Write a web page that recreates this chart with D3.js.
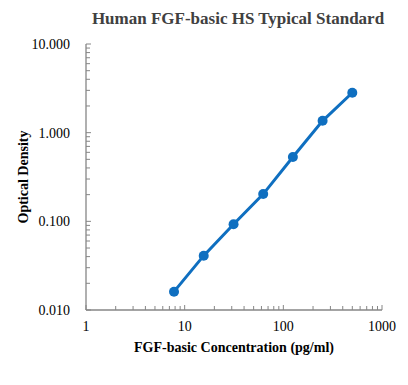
<!DOCTYPE html>
<html>
<head>
<meta charset="utf-8">
<script src="https://cdn.jsdelivr.net/npm/d3@7"></script>
<style>
  body { margin: 0; background: #fff; }
  svg { display: block; }
</style>
</head>
<body>
<script>
// standard curve data
const concentrations = [7.8, 15.6, 31.3, 62.5, 125, 250, 500];
const odValues = [0.0161, 0.041, 0.0925, 0.203, 0.531, 1.36, 2.82];
const xTicks = [1, 10, 100, 1000];
const yTicks = [0.01, 0.1, 1, 10];

const width = 408, height = 385;
const plotLeft = 86, plotRight = 382, plotTop = 44, plotBottom = 310;
const serif = "Liberation Serif, Times New Roman, serif";

const svg = d3.select("body").append("svg")
  .attr("width", width)
  .attr("height", height)
  .style("font-family", serif);

const x = d3.scaleLog().domain([1, 1000]).range([plotLeft, plotRight]);
const y = d3.scaleLog().domain([0.01, 10]).range([plotBottom, plotTop]);

// minor tick positions (2..9 in every decade)
function minorTicks(lo, hi) {
  let out = [];
  for (let d = lo; d < hi; d *= 10) {
    for (let k = 2; k <= 9; k++) out.push(d * k);
  }
  return out;
}

const axisColor = "#868686";

// x axis, ticks point inward (up)
const xAxis = svg.append("g").attr("transform", `translate(0,${plotBottom})`);
xAxis.append("line")
  .attr("x1", plotLeft).attr("x2", plotRight)
  .attr("stroke", axisColor).attr("stroke-width", 1.3);
xAxis.selectAll(".minor").data(minorTicks(1, 1000)).enter().append("line")
  .attr("x1", d => x(d)).attr("x2", d => x(d))
  .attr("y1", 0).attr("y2", -4)
  .attr("stroke", axisColor);
xAxis.selectAll(".major").data(xTicks).enter().append("line")
  .attr("x1", d => x(d)).attr("x2", d => x(d))
  .attr("y1", 0).attr("y2", -5)
  .attr("stroke", axisColor);
xAxis.selectAll("text").data(xTicks).enter().append("text")
  .attr("x", d => x(d)).attr("y", 21)
  .attr("text-anchor", "middle")
  .attr("font-size", 14)
  .attr("fill", "#000")
  .text(d => d);

// y axis, ticks point inward (right)
const yAxis = svg.append("g").attr("transform", `translate(${plotLeft},0)`);
yAxis.append("line")
  .attr("y1", plotTop).attr("y2", plotBottom)
  .attr("stroke", axisColor).attr("stroke-width", 1.3);
yAxis.selectAll(".minor").data(minorTicks(0.01, 10)).enter().append("line")
  .attr("y1", d => y(d)).attr("y2", d => y(d))
  .attr("x1", 0).attr("x2", 4)
  .attr("stroke", axisColor);
yAxis.selectAll(".major").data(yTicks).enter().append("line")
  .attr("y1", d => y(d)).attr("y2", d => y(d))
  .attr("x1", 0).attr("x2", 5)
  .attr("stroke", axisColor);
yAxis.selectAll("text").data(yTicks).enter().append("text")
  .attr("x", -16).attr("y", d => y(d) + 5)
  .attr("text-anchor", "end")
  .attr("font-size", 14)
  .attr("fill", "#000")
  .text(d => d3.format(".3f")(d));

// line and markers
const pts = concentrations.map((c, i) => [c, odValues[i]]);
svg.append("path")
  .datum(pts)
  .attr("fill", "none")
  .attr("stroke", "#0F6FC0")
  .attr("stroke-width", 3)
  .attr("d", d3.line().x(d => x(d[0])).y(d => y(d[1])));
svg.selectAll(".pt").data(pts).enter().append("circle")
  .attr("cx", d => x(d[0]))
  .attr("cy", d => y(d[1]))
  .attr("r", 5)
  .attr("fill", "#0F6FC0");

// title and axis labels
svg.append("text")
  .attr("x", 238).attr("y", 24)
  .attr("text-anchor", "middle")
  .attr("font-size", 17).attr("font-weight", "bold")
  .attr("fill", "#404040")
  .text("Human FGF-basic HS Typical Standard");

svg.append("text")
  .attr("x", 234).attr("y", 352)
  .attr("text-anchor", "middle")
  .attr("font-size", 14).attr("font-weight", "bold")
  .attr("fill", "#000")
  .text("FGF-basic Concentration (pg/ml)");

svg.append("text")
  .attr("transform", "translate(28,177) rotate(-90)")
  .attr("text-anchor", "middle")
  .attr("font-size", 14).attr("font-weight", "bold")
  .attr("fill", "#000")
  .text("Optical Density");
</script>
</body>
</html>
